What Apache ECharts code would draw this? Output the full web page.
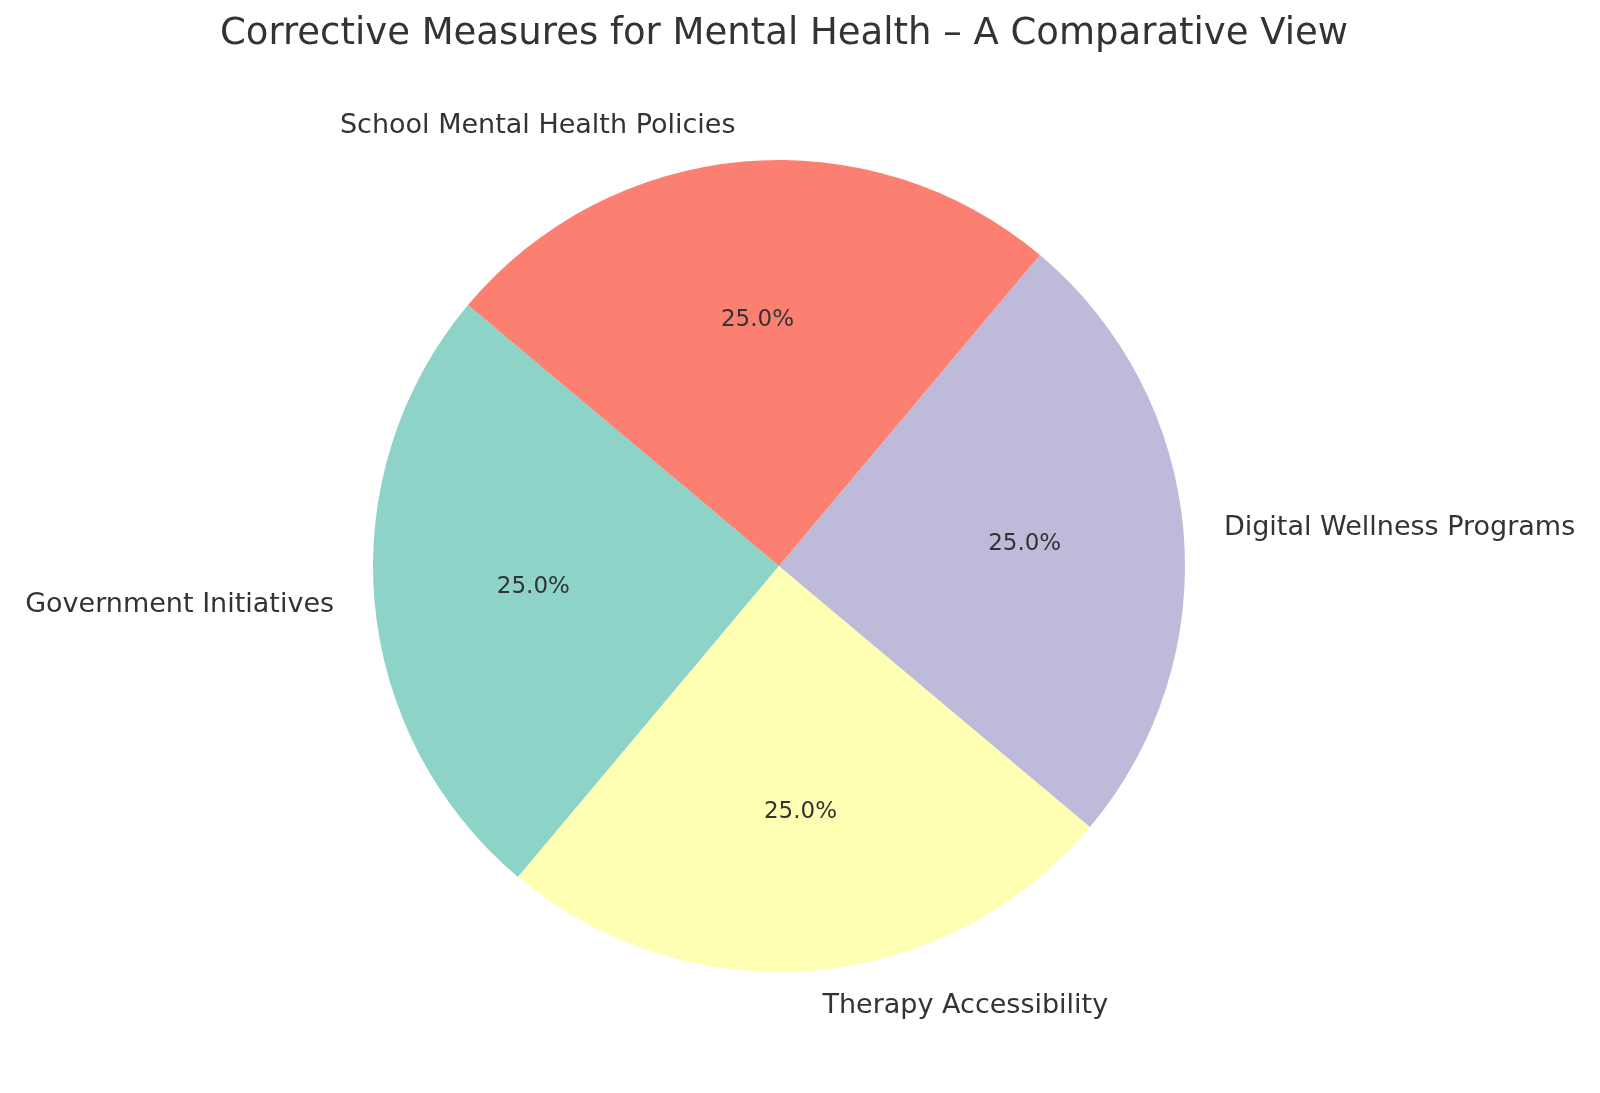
<!DOCTYPE html>
<html>
<head>
<meta charset="utf-8">
<script src="https://cdn.jsdelivr.net/npm/echarts@6/dist/echarts.min.js"></script>
<style>html,body{margin:0;background:#fff}#chart{width:1600px;height:1093px}</style>
</head>
<body>
<div id="chart"></div>
<script>
// matplotlib-like pie: startangle 140, counter-clockwise
var categories = ['Government Initiatives', 'Therapy Accessibility', 'Digital Wellness Programs', 'School Mental Health Policies'];
var values = [25, 25, 25, 25];
var colors = ['#8dd3c7', '#ffffb3', '#bebada', '#fb8072'];

var font = 'DejaVu Sans';
var center = [779, 566];
var R = 406;

var pieData = categories.map(function (c, i) {
  return { name: c, value: values[i], itemStyle: { color: colors[i] } };
});

var chart = echarts.init(document.getElementById('chart'));
chart.setOption({
  backgroundColor: '#fff',
  title: {
    text: 'Corrective Measures for Mental Health \u2013 A Comparative View',
    left: 779, top: 11, textAlign: 'center',
    textStyle: { fontFamily: font, fontSize: 37, fontWeight: 'normal', color: '#333' }
  },
  series: [
    {
      type: 'pie', center: center, radius: [0, R],
      startAngle: 140, clockwise: false, silent: true,
      data: pieData,
      avoidLabelOverlap: false,
      label: { show: true, position: 'outside', formatter: '{b}',
        fontFamily: font, fontSize: 27, color: '#333' },
      labelLine: { show: false, length: R * 0.1 - 5, length2: 0 }
    },
    {
      // percent labels at 0.6 radius
      type: 'pie', center: center, radius: [0, R * 1.2],
      startAngle: 140, clockwise: false, silent: true,
      data: pieData.map(function (d) { return { name: d.name, value: d.value, itemStyle: { color: 'rgba(0,0,0,0)' } }; }),
      label: { show: true, position: 'inside', formatter: function (p) { return p.percent.toFixed(1) + '%'; },
        fontFamily: font, fontSize: 23, color: '#333' },
      labelLine: { show: false }
    }
  ]
});
</script>
</body>
</html>
